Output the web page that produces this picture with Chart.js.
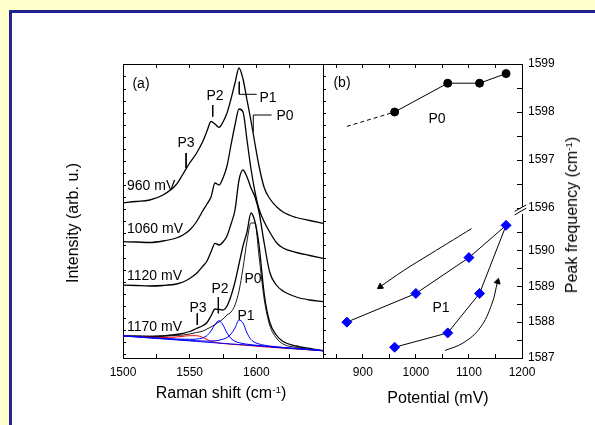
<!DOCTYPE html>
<html><head><meta charset="utf-8">
<script src="https://cdn.jsdelivr.net/npm/chart.js@4/dist/chart.umd.min.js"></script>
<style>
html,body{margin:0;padding:0;width:595px;height:425px;overflow:hidden;background:#FFFFCC;font-family:"Liberation Sans",Arial,sans-serif;}
#frame{position:absolute;left:9px;top:10px;width:600px;height:430px;background:#fff;border-left:3px solid #23238C;border-top:3px solid #23238C;}
canvas{position:absolute;}
.t{position:absolute;color:#000;white-space:nowrap;font-size:14px;line-height:1;transform:translate(-50%,-50%);}
.l{transform:translate(0,-50%);}
.ti{font-size:16px;}
.r{transform:translate(-50%,-50%) rotate(-90deg);}
sup{font-size:0.62em;vertical-align:0.55em;line-height:0;}
</style></head><body>
<div id="frame"></div>
<canvas id="ca" width="320" height="390" style="left:20px;top:30px;width:320px;height:390px"></canvas>
<canvas id="cb" width="295" height="390" style="left:300px;top:30px;width:295px;height:390px"></canvas>

<div class="t" style="left:141px;top:83px">(a)</div>
<div class="t" style="left:215px;top:95px">P2</div>
<div class="t" style="left:268px;top:97px">P1</div>
<div class="t" style="left:285px;top:115px">P0</div>
<div class="t" style="left:186px;top:142px">P3</div>
<div class="t l" style="left:127px;top:185px">960 mV</div>
<div class="t l" style="left:127px;top:228px">1060 mV</div>
<div class="t l" style="left:127px;top:275px">1120 mV</div>
<div class="t l" style="left:127px;top:326px">1170 mV</div>
<div class="t" style="left:198px;top:307px">P3</div>
<div class="t" style="left:220px;top:288px">P2</div>
<div class="t" style="left:246px;top:315px">P1</div>
<div class="t" style="left:253px;top:278px">P0</div>
<div class="t" style="left:342px;top:82px">(b)</div>
<div class="t" style="left:437px;top:118px">P0</div>
<div class="t" style="left:441px;top:307px">P1</div>

<div class="t ti r" style="left:73px;top:223px">Intensity (arb. u.)</div>
<div class="t ti" style="left:221px;top:393px">Raman shift (cm<sup>-1</sup>)</div>
<div class="t ti" style="left:438px;top:398px">Potential (mV)</div>
<div class="t ti r" style="left:572px;top:215px">Peak frequency (cm<sup>-1</sup>)</div>

<script>
// ---------- Panel (a): Raman spectra ----------
const shifts = [1500,1510,1520,1530,1540,1545,1550,1555,1560,1563,1566,1569,1572,1575,1578,1581,1584,1587,1590,1593,1596,1599,1602,1606,1610,1615,1620,1630,1640,1650];
const spec960  = [155.3,156.5,158,163,173.5,184,195,204.5,217,227,236.5,234,230.7,236,245,259,275,290,279,258,237,214,192,170,159.5,151.5,146,140.5,137.5,134.7];
const spec1060 = [116.3,116,115.5,117,120,123,128,136,147.5,154,161,175,173,180,192,213,233,249,246,218,189,166,149,136,126,115.5,110,105.5,102.5,99.7];
const spec1120 = [73,72.5,72,72.5,74,76,79.5,84.5,92,97,106,114.7,113,116,122,134,148,178,188,181,170,161,146,114,86,73,67,61,58,56.3];
const spec1170 = [22,21.8,21.3,22,23.5,24.7,26.5,29.5,32.5,35.5,42,49,48.5,48,52,62,76,94,112,126,145,136,113,63,36,23,16.5,12,9.5,7.3];
const fitP0    = [22.5,22,22,22,22.5,23,24,25.5,27,29,31,33.5,36,39,43,46,53,67,90,117,135,135,102,58,33,20,14,10.5,8.5,7];
const fitP1    = [22.2,21.2,20.3,19.4,18.5,18.1,17.7,17.3,17,16.9,16.9,17.2,17.8,18.8,20.5,24,30,38,35,25,18.5,15.5,14,12.8,12,11.2,10.6,9.5,8.5,7.5];
const fitP2    = [22.3,21.4,20.5,19.7,19,18.8,18.7,18.9,20.2,22.5,27,33.5,37.3,33,25,19.5,16.8,15.3,14.4,13.8,13.3,12.9,12.5,12,11.5,11,10.5,9.4,8.4,7.4];
const fitP3    = [22.2,21.5,20.8,20.5,21,21.7,22.3,22.3,20.5,18.5,16.8,15.8,15,14.5,14.2,13.8,13.5,13.2,13,12.6,12.3,12,11.6,11.2,10.8,10.3,9.8,9,8.1,7.3];
const fitBase  = [22,21,20,19.1,18.1,17.6,17.1,16.6,16.1,15.8,15.5,15.2,14.9,14.6,14.3,14,13.8,13.5,13.2,12.9,12.6,12.3,12,11.6,11.2,10.7,10.2,9.2,8.3,7.3];
// leader lines for peak labels (Raman shift, intensity)
const leadP1aX = [1587.2,1587.2,1600.3], leadP1aY = [276.3,263.7,263.7];
const leadP0aX = [1597.7,1597.7,1611.5], leadP0aY = [226.3,243,243];
const leadP2aX = [1567.3,1567.3], leadP2aY = [253,241.3];
const leadP3aX = [1547.3,1547.3], leadP3aY = [205,190];
const leadP3bX = [1555.7,1555.7], leadP3bY = [44.7,33];
const leadP2bX = [1571.5,1571.5], leadP2bY = [61,44.7];

// ---------- Panel (b): peak frequency vs potential ----------
const potentials = [960,1060,1120,1170];
const p0Freq = [1598.0,1598.6,1598.6,1598.8];
const p0DashPot = [870,960], p0DashFreq = [1597.7,1598.0];
const p1Pot  = [960,1060,1120,1170,1100,1000,870];
const p1Freq = [1587.3,1587.7,1588.8,1590.7,1589.8,1588.8,1588.0];
const arrowDownPot  = [1105,1071,1027,977,933];
const arrowDownFreq = [1590.61,1590.30,1589.90,1589.44,1588.99];
const arrowUpPot  = [1055,1089,1121,1143,1154];
const arrowUpFreq = [1587.21,1587.42,1587.84,1588.5,1589.13];
const breakPot = [1186,1208];
const breakLow = [1590.99,1591.18], breakHigh = [1591.09,1591.27];
const gapPot = [1200,1200], gapFreq = [1591.02,1591.22];

const xy = (xs, ys) => xs.map((x, i) => ({x, y: ys[i]}));
Chart.defaults.font.family = '"Liberation Sans", Arial, sans-serif';
Chart.defaults.color = '#000';

const line = (xs, ys, color, w, extra) => Object.assign({
  data: xy(xs, ys), borderColor: color, borderWidth: w, pointRadius: 0,
  fill: false, tension: 0
}, extra || {});

const aTicks = axis => { const t = []; for (let v = 3.4; v <= 294; v += 12.07) t.push({value: v}); axis.ticks = t; };
const black = '#000';
const mono = {cubicInterpolationMode:'monotone'};

new Chart(document.getElementById('ca'), {
  type: 'line',
  data: { datasets: [
    line(shifts, fitBase, '#0000FF', 1, mono),
    line(shifts, fitP1, '#0000FF', 1, mono),
    line(shifts, fitP2, '#0000FF', 1, mono),
    line(shifts, fitP3, '#FF0000', 1, mono),
    line(shifts, spec960, black, 1.3, mono),
    line(shifts, spec1060, black, 1.3, mono),
    line(shifts, spec1120, black, 1.3, mono),
    line(shifts, spec1170, black, 1.3, mono),
    line(shifts, fitP0, black, 0.9, mono),
    line(leadP1aX, leadP1aY, black, 1),
    line(leadP0aX, leadP0aY, black, 1),
    line(leadP2aX, leadP2aY, black, 1),
    line(leadP3aX, leadP3aY, black, 1),
    line(leadP3bX, leadP3bY, black, 1),
    line(leadP2bX, leadP2bY, black, 1)
  ]},
  options: {
    responsive: false, animation: false, events: [],
    layout: { padding: { left: 103, top: 34, right: 0, bottom: 0 } },
    plugins: { legend: {display:false}, tooltip: {enabled:false} },
    scales: {
      x: { type:'linear', position:'bottom', min:1500, max:1650,
        afterFit: s => { s.height = 62; },
        grid: { drawOnChartArea:false, tickLength:-4, color:black },
        border: { color:black, width:1 },
        ticks: { stepSize:25, autoSkip:false, maxRotation:0, padding:11, font:{size:12},
          callback: v => (v % 50 === 0 && v < 1650) ? String(v) : '' } },
      xt: { type:'linear', position:'top', min:1500, max:1650,
        afterFit: s => { s.height = 0; },
        grid: { drawOnChartArea:false, tickLength:-4, color:black },
        border: { color:black, width:1 },
        ticks: { stepSize:25, display:false } },
      y: { type:'linear', position:'left', min:0, max:294,
        afterFit: s => { s.width = 0; }, afterBuildTicks: aTicks,
        grid: { drawOnChartArea:false, tickLength:-3, color:black },
        border: { color:black, width:1 },
        ticks: { display:false } },
      yr: { type:'linear', position:'right', min:0, max:294,
        afterFit: s => { s.width = 17; }, afterBuildTicks: aTicks,
        grid: { drawOnChartArea:false, tickLength:3, color:black },
        border: { color:black, width:1 },
        ticks: { display:false } }
    }
  }
});

new Chart(document.getElementById('cb'), {
  type: 'line',
  data: { datasets: [
    line(p1Pot, p1Freq, black, 1, {yAxisID:'yL', xAxisID:'x', pointRadius:5, pointStyle:'rectRot',
      pointBackgroundColor:'#0000FF', pointBorderColor:'#0000FF', pointBorderWidth:1}),
    line(potentials, p0Freq, black, 1, {yAxisID:'yU', xAxisID:'x', pointRadius:4, pointStyle:'circle',
      pointBackgroundColor:black, pointBorderColor:black}),
    line(p0DashPot, p0DashFreq, black, 1, {yAxisID:'yU', xAxisID:'x', borderDash:[4,3]}),
    line(arrowDownPot, arrowDownFreq, black, 1, {yAxisID:'yL', xAxisID:'x', tension:0.4,
      pointRadius:[0,0,0,0,3.5], pointStyle:'triangle', pointRotation:[0,0,0,0,235],
      pointBackgroundColor:black, pointBorderColor:black}),
    line(arrowUpPot, arrowUpFreq, black, 1, {yAxisID:'yL', xAxisID:'x', tension:0.4,
      pointRadius:[0,0,0,0,3.5], pointStyle:'triangle', pointRotation:[0,0,0,0,15],
      pointBackgroundColor:black, pointBorderColor:black}),
    line(breakPot, breakLow, black, 1, {yAxisID:'yL', xAxisID:'x', clip:false}),
    line(breakPot, breakHigh, black, 1, {yAxisID:'yL', xAxisID:'x', clip:false}),
    line(gapPot, gapFreq, '#fff', 3, {yAxisID:'yL', xAxisID:'x', clip:false})
  ]},
  options: {
    responsive: false, animation: false, events: [],
    layout: { padding: { left: 23, top: 34, right: 0, bottom: 0 } },
    plugins: { legend: {display:false}, tooltip: {enabled:false} },
    scales: {
      x: { type:'linear', position:'bottom', min:825, max:1200,
        afterFit: s => { s.height = 62; },
        grid: { drawOnChartArea:false, tickLength:-4, color:black },
        border: { color:black, width:1 },
        ticks: { stepSize:50, includeBounds:false, autoSkip:false, maxRotation:0, padding:11, font:{size:12},
          callback: v => (v % 100 === 0) ? String(v) : '' } },
      xt: { type:'linear', position:'top', min:825, max:1200,
        afterFit: s => { s.height = 0; },
        grid: { drawOnChartArea:false, tickLength:-4, color:black },
        border: { color:black, width:1 },
        ticks: { stepSize:50, includeBounds:false, display:false } },
      yU: { type:'linear', position:'right', stack:'b', stackWeight:148.8, min:1595.9, max:1599,
        afterFit: s => { s.width = 73; },
        grid: { drawOnChartArea:false, tickLength:-5, color:black },
        border: { color:black, width:1 },
        ticks: { stepSize:0.5, includeBounds:false, autoSkip:false, padding:11, font:{size:12},
          callback: v => Number.isInteger(v) ? String(v) : '' } },
      yL: { type:'linear', position:'right', stack:'b', stackWeight:145.2, min:1587, max:1591.05,
        afterFit: s => { s.width = 73; },
        grid: { drawOnChartArea:false, tickLength:-5,
          tickColor: c => (c.tick && c.tick.value > 1590.6) ? 'rgba(0,0,0,0)' : black },
        border: { color:black, width:1 },
        ticks: { stepSize:0.5, includeBounds:false, autoSkip:false, padding:11, font:{size:12},
          callback: v => (Number.isInteger(v) && v <= 1590) ? String(v) : '' } }
    }
  }
});
</script>
</body></html>
